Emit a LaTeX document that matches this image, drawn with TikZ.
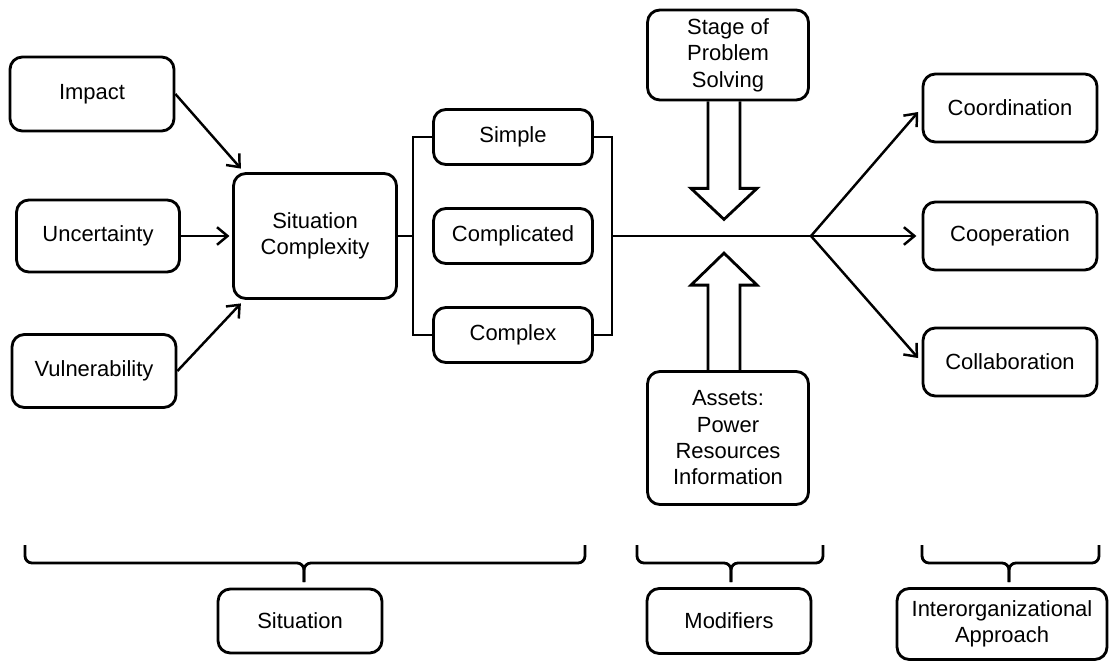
\documentclass[tikz,border=0pt]{standalone}
\usepackage{fontspec}
\setmainfont{Liberation Sans}
\usetikzlibrary{arrows.meta}
\tikzset{
  box/.style={draw, line width=1.6pt, rounded corners=7pt, align=center, inner sep=2pt, font=\fontsize{12.5}{15}\selectfont},
  link/.style={line width=1.4pt},
  arr/.style={link, -{Straight Barb[length=6pt,width=10pt]}},
  hollow/.style={line width=1.6pt},
  brk/.style={line width=1.6pt, rounded corners=4pt}
}
\begin{document}
\begin{tikzpicture}[x=0.02cm, y=-0.02cm]
\useasboundingbox (0,0) rectangle (1109,662);
% situation factors
\node[box, minimum width=3.28cm, minimum height=1.48cm] (imp) at (92,94) {Impact};
\node[box, minimum width=3.26cm, minimum height=1.44cm] (unc) at (98,236) {Uncertainty};
\node[box, minimum width=3.28cm, minimum height=1.46cm] (vul) at (94,371) {Vulnerability};
\node[box, minimum width=3.26cm, minimum height=2.5cm] (sc) at (315,236) {Situation\\Complexity};
% kinds of complexity
\node[box, minimum width=3.18cm, minimum height=1.1cm] (simple) at (513,137) {Simple};
\node[box, minimum width=3.18cm, minimum height=1.1cm] (compl) at (513,236) {Complicated};
\node[box, minimum width=3.18cm, minimum height=1.1cm] (cplx) at (513,335) {Complex};
% modifiers
\node[box, minimum width=3.22cm, minimum height=1.8cm] (stage) at (728,55) {Stage of\\Problem\\Solving};
\node[box, minimum width=3.22cm, minimum height=2.66cm] (assets) at (728,438) {Assets:\\Power\\Resources\\Information};
% approaches
\node[box, minimum width=3.48cm, minimum height=1.36cm] (coord) at (1010,108) {Coordination};
\node[box, minimum width=3.48cm, minimum height=1.36cm] (coop) at (1010,236) {Cooperation};
\node[box, minimum width=3.48cm, minimum height=1.36cm] (collab) at (1010,362) {Collaboration};
% bottom labels
\node[box, minimum width=3.28cm, minimum height=1.28cm] (sit) at (300,621) {Situation};
\node[box, minimum width=3.28cm, minimum height=1.3cm] (mod) at (729,621) {Modifiers};
\node[box, minimum width=4.2cm, minimum height=1.42cm] (inter) at (1002,624) {Interorganizational\\Approach};
\coordinate (lb) at (413,236);
\coordinate (rb) at (612,236);
\coordinate (fork) at (811,236);
\draw[arr] (imp.east) -- ([xshift=5pt,yshift=2pt]sc.north west);
\draw[arr, shorten >=1.5pt] (unc.east) -- (unc.east -| sc.west);
\draw[arr] (vul.east) -- ([xshift=5pt,yshift=-2pt]sc.south west);
\draw[link] (sc.east) -- (lb);
\draw[link] (simple.west) -| (lb) |- (cplx.west);
\draw[link] (simple.east) -| (rb) |- (cplx.east);
\draw[link] (rb) -- (fork);
\draw[arr, shorten >=3pt] (fork) -- (coord.west);
\draw[arr, shorten >=3pt] (fork) -- (coop.west);
\draw[arr, shorten >=3pt] (fork) -- (collab.west);
% hollow arrows
\draw[hollow] (stage.south) ++(-20,0) -- ++(0,87) -- ++(-17,0) -- ++(33,31) -- ++(33,-31) -- ++(-17,0) -- ++(0,-87);
\draw[hollow] (assets.north) ++(-20,0) -- ++(0,-85) -- ++(-17,0) -- ++(33,-32) -- ++(33,32) -- ++(-17,0) -- ++(0,85);
% braces
\draw[brk] (25,545) |- (304,563) -- (304,582);
\draw[brk] (585,545) |- (304,563) -- (304,582);
\draw[brk] (637,545) |- (731,563) -- (731,582);
\draw[brk] (823,545) |- (731,563) -- (731,582);
\draw[brk] (922,545) |- (1009,563) -- (1009,582);
\draw[brk] (1099,545) |- (1009,563) -- (1009,582);
\end{tikzpicture}
\end{document}
